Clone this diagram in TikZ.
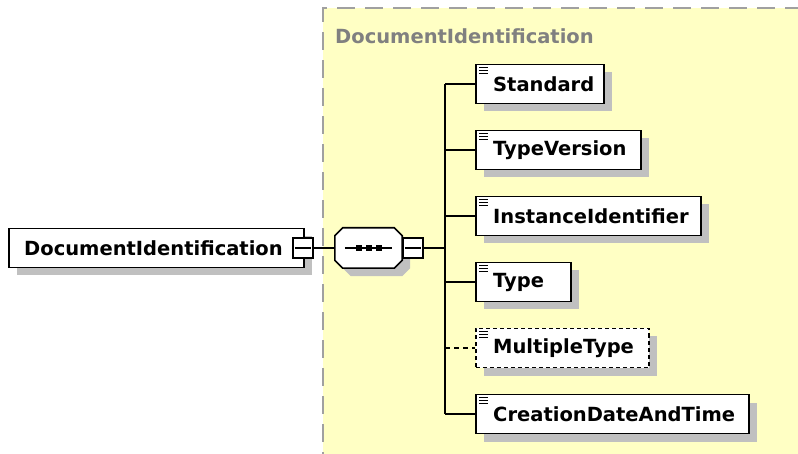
\documentclass[tikz,border=0pt]{standalone}
\usepackage{fontspec}
\setmainfont{DejaVu Sans}
\usetikzlibrary{shadows}
\definecolor{panelfill}{HTML}{FFFFC4}
\definecolor{paneldash}{HTML}{A0A0A0}
\definecolor{titlegray}{HTML}{808080}
\definecolor{shadowgray}{HTML}{C0C0C0}
\tikzset{
  x=1pt, y=-1pt,
  boxshadow/.style={drop shadow={shadow xshift=8pt, shadow yshift=-8pt, fill=shadowgray, opacity=1}},
  elembox/.style={draw=black, line width=1.6pt, fill=white, minimum height=39pt, inner sep=0pt, anchor=west, boxshadow},
  optbox/.style={elembox, dashed, dash pattern=on 4pt off 3pt},
  elemtxt/.style={font=\fontsize{19.5}{22}\selectfont\bfseries, inner sep=0pt, anchor=west},
  minusbox/.style={draw=black, line width=1.3pt, fill=white, minimum width=20pt, minimum height=20pt, inner sep=0pt},
  conn/.style={line width=1.5pt, black},
  optconn/.style={conn, dash pattern=on 5pt off 4pt},
}
\newcommand{\docicon}[1]{%
  \draw[line width=1pt] ([xshift=4pt,yshift=-4pt]#1.north west) -- ++(9,0);
  \draw[line width=1pt] ([xshift=4pt,yshift=-7pt]#1.north west) -- ++(9,0);
  \draw[line width=1pt] ([xshift=4pt,yshift=-10pt]#1.north west) -- ++(9,0);
}
\newcommand{\octpath}[2]{% #1 = node, #2 = offset
  ([xshift={(8+#2)*1pt},yshift={-#2*1pt}]#1.north west)
  -- ([xshift={(-8+#2)*1pt},yshift={-#2*1pt}]#1.north east)
  -- ([xshift={#2*1pt},yshift={(-8-#2)*1pt}]#1.north east)
  -- ([xshift={#2*1pt},yshift={(8-#2)*1pt}]#1.south east)
  -- ([xshift={(-8+#2)*1pt},yshift={-#2*1pt}]#1.south east)
  -- ([xshift={(8+#2)*1pt},yshift={-#2*1pt}]#1.south west)
  -- ([xshift={#2*1pt},yshift={(8-#2)*1pt}]#1.south west)
  -- ([xshift={#2*1pt},yshift={(-8-#2)*1pt}]#1.north west)
  -- cycle
}
\begin{document}
\begin{tikzpicture}
\useasboundingbox (0,0) rectangle (798,454);
% panel
\fill[panelfill] (323,8) rectangle (810,470);
\draw[paneldash, line width=2pt, dash pattern=on 18pt off 10pt] (323,470) -- (323,8) -- (810,8);
\node[font=\fontsize{19.5}{22}\selectfont\bfseries, text=titlegray, anchor=west, inner sep=0pt] (ptitle) at (335,36) {DocumentIdentification};

% main element
\node[elembox, minimum width=295pt] (main) at (8,248) {};
\node[elemtxt] (maintxt) at ([xshift=16pt]main.west) {DocumentIdentification};
\node[minusbox] (m1) at (303,248) {};
\draw[line width=1.3pt] ([xshift=3pt]m1.west) -- ([xshift=-3pt]m1.east);

% sequence compositor
\node[minimum width=67pt, minimum height=40pt, inner sep=0pt] (seq) at (368.5,248) {};
\fill[shadowgray] \octpath{seq}{8};
\filldraw[fill=white, draw=black, line width=1.6pt] \octpath{seq}{0};
\draw[line width=1.3pt] ([xshift=10pt]seq.west) -- ([xshift=-10pt]seq.east);
\foreach \xx in {-10,0,10} \fill ([xshift=\xx pt]seq.center) +(-3,-3) rectangle +(3,3);
\node[minusbox] (m2) at (413,248) {};
\draw[line width=1.3pt] ([xshift=3pt]m2.west) -- ([xshift=-3pt]m2.east);

\draw[conn] (m1.east) -- (seq.west);
\coordinate (bar) at (445,248);
\draw[conn] (m2.east) -- (bar);

% children
\node[elembox, minimum width=128pt] (c1) at (475,84) {};
\node[elemtxt] (t1) at ([xshift=18pt]c1.west) {Standard};
\node[elembox, minimum width=165pt] (c2) at (475,150) {};
\node[elemtxt] (t2) at ([xshift=18pt]c2.west) {TypeVersion};
\node[elembox, minimum width=225pt] (c3) at (475,216) {};
\node[elemtxt] (t3) at ([xshift=18pt]c3.west) {InstanceIdentifier};
\node[elembox, minimum width=95pt] (c4) at (475,282) {};
\node[elemtxt] (t4) at ([xshift=18pt]c4.west) {Type};
\node[optbox, minimum width=173pt] (c5) at (475,348) {};
\node[elemtxt] (t5) at ([xshift=18pt]c5.west) {MultipleType};
\node[elembox, minimum width=273pt] (c6) at (475,414) {};
\node[elemtxt] (t6) at ([xshift=18pt]c6.west) {CreationDateAndTime};

\foreach \n in {c1,c2,c3,c4,c5,c6} {\docicon{\n}}

\coordinate (btop) at (445,84);
\coordinate (bbot) at (445,414);
\draw[conn] (btop) -- (bbot);
\draw[conn] (btop) -- (c1.west);
\draw[conn] (445,150) -- (c2.west);
\draw[conn] (445,216) -- (c3.west);
\draw[conn] (445,282) -- (c4.west);
\draw[optconn] (445,348) -- (c5.west);
\draw[conn] (bbot) -- (c6.west);
\end{tikzpicture}
\end{document}
